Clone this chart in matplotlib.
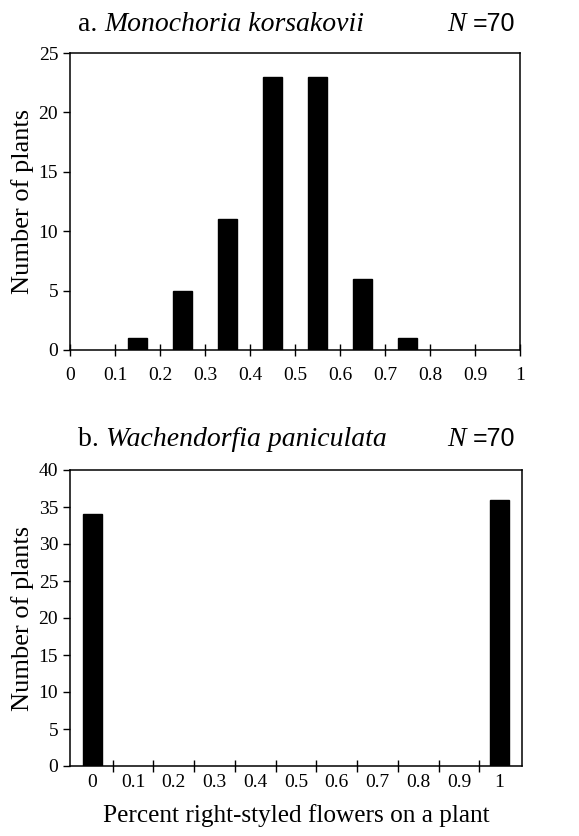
import matplotlib
matplotlib.use("Agg")
import matplotlib.pyplot as plt
import numpy as np

plt.rcParams['font.family'] = ['Liberation Serif', 'DejaVu Serif']

# Panel a data
a_x = [0.15, 0.25, 0.35, 0.45, 0.55, 0.65, 0.75]
a_counts = [1, 5, 11, 23, 23, 6, 1]
a_xticks = [0, 0.1, 0.2, 0.3, 0.4, 0.5, 0.6, 0.7, 0.8, 0.9, 1]
a_xticklabels = ['0', '0.1', '0.2', '0.3', '0.4', '0.5', '0.6', '0.7', '0.8', '0.9', '1']

# Panel b data
b_x = [0.0, 1.0]
b_counts = [34, 36]
b_labels = ['0', '0.1', '0.2', '0.3', '0.4', '0.5', '0.6', '0.7', '0.8', '0.9', '1']
b_label_pos = [0, 0.1, 0.2, 0.3, 0.4, 0.5, 0.6, 0.7, 0.8, 0.9, 1.0]

fig = plt.figure(figsize=(5.79, 8.36), dpi=100)
W, H = 579, 836

def ax_rect(l, t, r, b):
    return [l / W, 1 - b / H, (r - l) / W, (b - t) / H]

fs_tick = 14
fs_title = 20
fs_ylabel = 19
fs_xlabel = 18.2

# Panel a
ax1 = fig.add_axes(ax_rect(70, 53, 520, 350))
ax1.bar(a_x, a_counts, width=0.043, color='black', edgecolor='black')
ax1.set_xlim(0, 1)
ax1.set_ylim(0, 25)
ax1.set_xticks(a_xticks)
ax1.set_xticklabels(a_xticklabels)
ax1.set_yticks([0, 5, 10, 15, 20, 25])
ax1.tick_params(axis='x', direction='inout', length=9, width=1, labelsize=fs_tick, pad=8)
ax1.tick_params(axis='y', direction='out', length=5, width=1, labelsize=fs_tick)
ax1.set_ylabel('Number of plants', fontsize=fs_ylabel, labelpad=3)
for sp in ax1.spines.values():
    sp.set_linewidth(1.1)

# Panel b
ax2 = fig.add_axes(ax_rect(70, 470, 522, 766))
ax2.bar(b_x, b_counts, width=0.046, color='black', edgecolor='black')
ax2.set_xlim(-0.055, 1.055)
ax2.set_ylim(0, 40)
ax2.set_xticks(b_label_pos)
ax2.set_xticklabels(b_labels)
ax2.set_xticks(np.arange(0.05, 1.0, 0.1), minor=True)
ax2.tick_params(axis='x', which='major', length=0, pad=6, labelsize=fs_tick)
ax2.tick_params(axis='x', which='minor', direction='inout', length=9, width=1)
ax2.set_yticks([0, 5, 10, 15, 20, 25, 30, 35, 40])
ax2.tick_params(axis='y', direction='out', length=5, width=1, labelsize=fs_tick)
ax2.set_ylabel('Number of plants', fontsize=fs_ylabel, labelpad=3)
ax2.set_xlabel('Percent right-styled flowers on a plant', fontsize=fs_xlabel, labelpad=9)
for sp in ax2.spines.values():
    sp.set_linewidth(1.1)

# Titles
def title(prefix, name, y):
    yy = 1 - y / H
    t = fig.text(78 / W, yy, prefix, fontsize=fs_title, ha='left', va='baseline')
    fig.canvas.draw()
    bb = t.get_window_extent()
    fig.text(bb.x1 / W, yy, name, fontsize=fs_title, style='italic', ha='left', va='baseline')
    n = fig.text(447 / W, yy, 'N', fontsize=fs_title, style='italic', ha='left', va='baseline')
    fig.canvas.draw()
    nb = n.get_window_extent()
    fig.text((nb.x1 + 7) / W, yy, '=70', fontsize=fs_title - 2, ha='left', va='baseline',
             family=['Liberation Sans'])

title('a. ', 'Monochoria korsakovii', 31)
title('b. ', 'Wachendorfia paniculata', 446)

fig.savefig('out.png', dpi=100)
